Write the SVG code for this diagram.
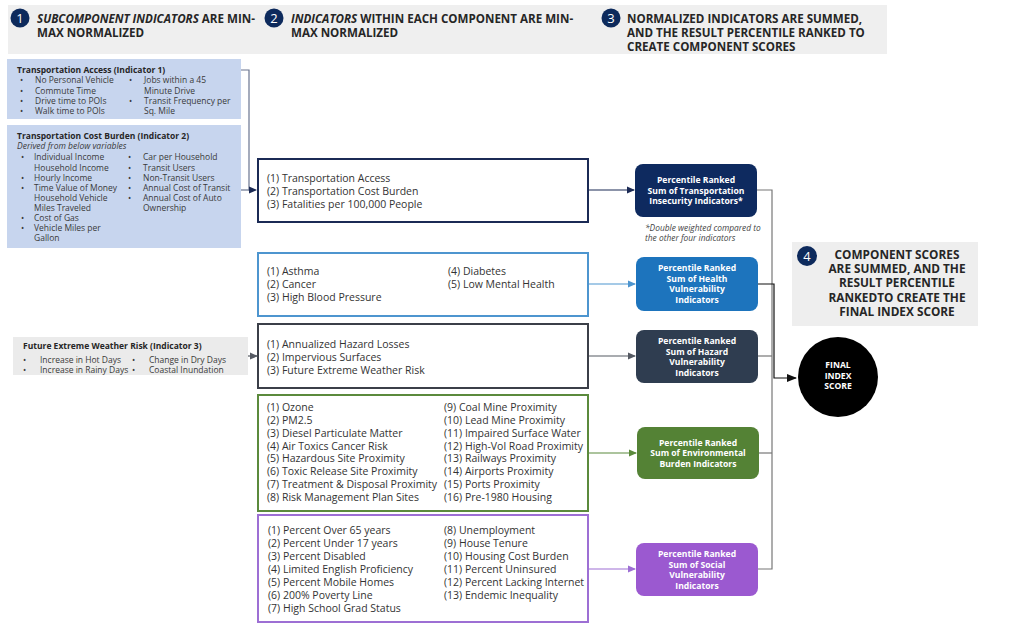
<svg xmlns="http://www.w3.org/2000/svg" width="1024" height="640" viewBox="0 0 1024 640">
<defs>
<style>
text{font-family:"Open Sans","Liberation Sans",sans-serif;}
.hd{font-size:11.6px;font-weight:bold;fill:#262626;}
.num{font-size:13px;fill:#fff;text-anchor:middle;}
.lt{font-size:8.5px;fill:#3a3a3a;}
.ltb{font-size:8.5px;font-weight:bold;fill:#262626;}
.mt{font-size:10.5px;fill:#333;}
.nt{font-size:8.6px;font-weight:bold;fill:#fff;text-anchor:middle;}
.note{font-size:8.4px;font-style:italic;fill:#444;}
.box4{font-size:11.8px;font-weight:bold;fill:#262626;text-anchor:middle;}
</style>
<marker id="aNavy" markerWidth="8" markerHeight="8" refX="7" refY="4" orient="auto" markerUnits="userSpaceOnUse"><path d="M0,0.5 L8,4 L0,7.5 Z" fill="#1b2a55"/></marker>
<marker id="aBlue" markerWidth="8" markerHeight="8" refX="7" refY="4" orient="auto" markerUnits="userSpaceOnUse"><path d="M0,0.5 L8,4 L0,7.5 Z" fill="#4d95cf"/></marker>
<marker id="aGray" markerWidth="8" markerHeight="8" refX="7" refY="4" orient="auto" markerUnits="userSpaceOnUse"><path d="M0,0.5 L8,4 L0,7.5 Z" fill="#555a63"/></marker>
<marker id="aGreen" markerWidth="8" markerHeight="8" refX="7" refY="4" orient="auto" markerUnits="userSpaceOnUse"><path d="M0,0.5 L8,4 L0,7.5 Z" fill="#5b8a3c"/></marker>
<marker id="aPurple" markerWidth="8" markerHeight="8" refX="7" refY="4" orient="auto" markerUnits="userSpaceOnUse"><path d="M0,0.5 L8,4 L0,7.5 Z" fill="#9d6fd4"/></marker>
<marker id="aBlack" markerWidth="10" markerHeight="10" refX="9" refY="5" orient="auto" markerUnits="userSpaceOnUse"><path d="M0,1 L10,5 L0,9 Z" fill="#111"/></marker>
</defs>
<rect width="1024" height="640" fill="#fff"/>

<g id="header">
<rect x="8" y="5" width="879" height="49" fill="#efefef"/>
<circle cx="20" cy="18" r="9.5" fill="#0d2a5c"/><text class="num" x="20" y="23">1</text>
<text class="hd" x="37" y="23"><tspan font-style="italic">SUBCOMPONENT INDICATORS</tspan> ARE MIN-</text>
<text class="hd" x="37" y="37">MAX NORMALIZED</text>
<circle cx="274" cy="18" r="9.5" fill="#0d2a5c"/><text class="num" x="274" y="23">2</text>
<text class="hd" x="291" y="23"><tspan font-style="italic">INDICATORS</tspan> WITHIN EACH COMPONENT ARE MIN-</text>
<text class="hd" x="291" y="37">MAX NORMALIZED</text>
<circle cx="611" cy="18" r="9.5" fill="#0d2a5c"/><text class="num" x="611" y="23">3</text>
<text class="hd" x="627" y="23">NORMALIZED INDICATORS ARE SUMMED,</text>
<text class="hd" x="627" y="37">AND THE RESULT PERCENTILE RANKED TO</text>
<text class="hd" x="627" y="51">CREATE COMPONENT SCORES</text>
</g>

<g id="sub-transport-access">
<rect x="7" y="59" width="234" height="60" fill="#c7d5ee"/>
<text class="ltb" x="17" y="73">Transportation Access (Indicator 1)</text>
<g class="lt">
<text x="20" y="83">•</text><text x="35" y="83">No Personal Vehicle</text>
<text x="20" y="93.5">•</text><text x="35" y="93.5">Commute Time</text>
<text x="20" y="104">•</text><text x="35" y="104">Drive time to POIs</text>
<text x="20" y="114">•</text><text x="35" y="114">Walk time to POIs</text>
<text x="129" y="83">•</text><text x="144" y="83">Jobs within a 45</text>
<text x="144" y="93.5">Minute Drive</text>
<text x="129" y="104">•</text><text x="144" y="104">Transit Frequency per</text>
<text x="144" y="114">Sq. Mile</text>
</g>
</g>

<g id="sub-transport-cost">
<rect x="7" y="125" width="234" height="123" fill="#c7d5ee"/>
<text class="ltb" x="17" y="139">Transportation Cost Burden (Indicator 2)</text>
<text class="lt" x="17" y="149" font-style="italic">Derived from below variables</text>
<g class="lt">
<text x="21" y="160">•</text><text x="34" y="160">Individual Income</text>
<text x="34" y="170.5">Household Income</text>
<text x="21" y="181">•</text><text x="34" y="181">Hourly Income</text>
<text x="21" y="191">•</text><text x="34" y="191">Time Value of Money</text>
<text x="34" y="201">Household Vehicle</text>
<text x="34" y="211">Miles Traveled</text>
<text x="21" y="221">•</text><text x="34" y="221">Cost of Gas</text>
<text x="21" y="231">•</text><text x="34" y="231">Vehicle Miles per</text>
<text x="34" y="241">Gallon</text>
<text x="128" y="160">•</text><text x="143" y="160">Car per Household</text>
<text x="128" y="170.5">•</text><text x="143" y="170.5">Transit Users</text>
<text x="128" y="181">•</text><text x="143" y="181">Non-Transit Users</text>
<text x="128" y="191">•</text><text x="143" y="191">Annual Cost of Transit</text>
<text x="128" y="201">•</text><text x="143" y="201">Annual Cost of Auto</text>
<text x="143" y="211">Ownership</text>
</g>
</g>

<g id="sub-weather">
<rect x="13" y="337" width="235" height="38" fill="#ebebeb"/>
<text class="ltb" x="23" y="349">Future Extreme Weather Risk (Indicator 3)</text>
<g class="lt">
<text x="23" y="363">•</text><text x="40" y="363">Increase in Hot Days</text>
<text x="23" y="373">•</text><text x="40" y="373">Increase in Rainy Days</text>
<text x="132" y="363">•</text><text x="149" y="363">Change in Dry Days</text>
<text x="132" y="373">•</text><text x="149" y="373">Coastal Inundation</text>
</g>
</g>

<g id="box-transport">
<rect x="258" y="159" width="330" height="63" fill="#fff" stroke="#1b2a55" stroke-width="2"/>
<text class="mt" x="267" y="182">(1) Transportation Access</text>
<text class="mt" x="267" y="195">(2) Transportation Cost Burden</text>
<text class="mt" x="267" y="208">(3) Fatalities per 100,000 People</text>
</g>

<g id="box-health">
<rect x="258" y="253" width="330" height="63" fill="#fff" stroke="#4d95cf" stroke-width="2"/>
<text class="mt" x="267" y="275">(1) Asthma</text>
<text class="mt" x="267" y="288">(2) Cancer</text>
<text class="mt" x="267" y="301">(3) High Blood Pressure</text>
<text class="mt" x="448" y="275">(4) Diabetes</text>
<text class="mt" x="448" y="288">(5) Low Mental Health</text>
</g>

<g id="box-hazard">
<rect x="258" y="324" width="330" height="64" fill="#fff" stroke="#3b3f48" stroke-width="2"/>
<text class="mt" x="267" y="348">(1) Annualized Hazard Losses</text>
<text class="mt" x="267" y="361">(2) Impervious Surfaces</text>
<text class="mt" x="267" y="374">(3) Future Extreme Weather Risk</text>
</g>

<g id="box-environment">
<rect x="258" y="395" width="330" height="116" fill="#fff" stroke="#5b8a3c" stroke-width="2"/>
<g class="mt">
<text x="267" y="411">(1) Ozone</text>
<text x="267" y="424">(2) PM2.5</text>
<text x="267" y="436.5">(3) Diesel Particulate Matter</text>
<text x="267" y="449.5">(4) Air Toxics Cancer Risk</text>
<text x="267" y="462">(5) Hazardous Site Proximity</text>
<text x="267" y="475">(6) Toxic Release Site Proximity</text>
<text x="267" y="488">(7) Treatment &amp; Disposal Proximity</text>
<text x="267" y="500.5">(8) Risk Management Plan Sites</text>
<text x="444" y="411">(9) Coal Mine Proximity</text>
<text x="444" y="424">(10) Lead Mine Proximity</text>
<text x="444" y="436.5">(11) Impaired Surface Water</text>
<text x="444" y="449.5">(12) High-Vol Road Proximity</text>
<text x="444" y="462">(13) Railways Proximity</text>
<text x="444" y="475">(14) Airports Proximity</text>
<text x="444" y="488">(15) Ports Proximity</text>
<text x="444" y="500.5">(16) Pre-1980 Housing</text>
</g>
</g>

<g id="box-social">
<rect x="258" y="515" width="330" height="107" fill="#fff" stroke="#9d6fd4" stroke-width="2"/>
<g class="mt">
<text x="268" y="534">(1) Percent Over 65 years</text>
<text x="268" y="547">(2) Percent Under 17 years</text>
<text x="268" y="560">(3) Percent Disabled</text>
<text x="268" y="573">(4) Limited English Proficiency</text>
<text x="268" y="586">(5) Percent Mobile Homes</text>
<text x="268" y="599">(6) 200% Poverty Line</text>
<text x="268" y="612">(7) High School Grad Status</text>
<text x="444" y="534">(8) Unemployment</text>
<text x="444" y="547">(9) House Tenure</text>
<text x="444" y="560">(10) Housing Cost Burden</text>
<text x="444" y="573">(11) Percent Uninsured</text>
<text x="444" y="586">(12) Percent Lacking Internet</text>
<text x="444" y="599">(13) Endemic Inequality</text>
</g>
</g>

<g id="node-transport">
<rect x="635" y="164" width="122" height="53" rx="8" fill="#0e2a5f"/>
<text class="nt" x="696" y="183">Percentile Ranked</text>
<text class="nt" x="696" y="194">Sum of Transportation</text>
<text class="nt" x="696" y="204">Insecurity Indicators*</text>
</g>
<g id="note">
<text class="note" x="645" y="231">*Double weighted compared to</text>
<text class="note" x="645" y="241">the other four indicators</text>
</g>

<g id="node-health">
<rect x="636" y="257" width="122" height="54" rx="8" fill="#1d74bd"/>
<text class="nt" x="697" y="271">Percentile Ranked</text>
<text class="nt" x="697" y="281.5">Sum of Health</text>
<text class="nt" x="697" y="292">Vulnerability</text>
<text class="nt" x="697" y="302.5">Indicators</text>
</g>

<g id="node-hazard">
<rect x="636" y="330" width="122" height="53" rx="8" fill="#2f3d50"/>
<text class="nt" x="697" y="344">Percentile Ranked</text>
<text class="nt" x="697" y="354.5">Sum of Hazard</text>
<text class="nt" x="697" y="365">Vulnerability</text>
<text class="nt" x="697" y="375.5">Indicators</text>
</g>

<g id="node-environment">
<rect x="637" y="427" width="122" height="52" rx="8" fill="#548235"/>
<text class="nt" x="698" y="446">Percentile Ranked</text>
<text class="nt" x="698" y="456">Sum of Environmental</text>
<text class="nt" x="698" y="466.5">Burden Indicators</text>
</g>

<g id="node-social">
<rect x="636" y="543" width="122" height="53" rx="8" fill="#9b59d0"/>
<text class="nt" x="697" y="557">Percentile Ranked</text>
<text class="nt" x="697" y="567.5">Sum of Social</text>
<text class="nt" x="697" y="578">Vulnerability</text>
<text class="nt" x="697" y="588.5">Indicators</text>
</g>

<g id="step4">
<rect x="792" y="242" width="186" height="84" fill="#eeeeee"/>
<circle cx="807" cy="256" r="10" fill="#0d2a5c"/><text class="num" x="807" y="261" font-size="14">4</text>
<text class="box4" x="897" y="259">COMPONENT SCORES</text>
<text class="box4" x="897" y="273">ARE SUMMED, AND THE</text>
<text class="box4" x="897" y="287">RESULT PERCENTILE</text>
<text class="box4" x="897" y="302">RANKEDTO CREATE THE</text>
<text class="box4" x="897" y="316">FINAL INDEX SCORE</text>
</g>

<g id="final-index">
<circle cx="838" cy="377" r="40" fill="#000"/>
<text class="nt" x="838" y="368" font-size="8">FINAL</text>
<text class="nt" x="838" y="378.5" font-size="8">INDEX</text>
<text class="nt" x="838" y="389" font-size="8">SCORE</text>
</g>

<g id="connectors" fill="none" stroke-width="1.2">
<path d="M241,70 H249 V190 H256" stroke="#6a7590" marker-end="url(#aNavy)"/>
<path d="M241,190 H249" stroke="#6a7590"/>
<path d="M248,356 H257" stroke="#555a63" marker-end="url(#aGray)"/>
<path d="M589,190 H634" stroke="#1b2a55" marker-end="url(#aNavy)"/>
<path d="M589,284 H635" stroke="#4d95cf" marker-end="url(#aBlue)"/>
<path d="M589,356 H635" stroke="#555a63" marker-end="url(#aGray)"/>
<path d="M589,453 H636" stroke="#5b8a3c" marker-end="url(#aGreen)"/>
<path d="M589,569 H635" stroke="#9d6fd4" marker-end="url(#aPurple)"/>
<path d="M757,190 H772 V569 H758" stroke="#777"/>
<path d="M758,356 H772"  stroke="#777"/>
<path d="M759,453 H772"  stroke="#777"/>
<path d="M758,284 H774 V378 H796" stroke="#111" marker-end="url(#aBlack)"/>
</g>
</svg>
